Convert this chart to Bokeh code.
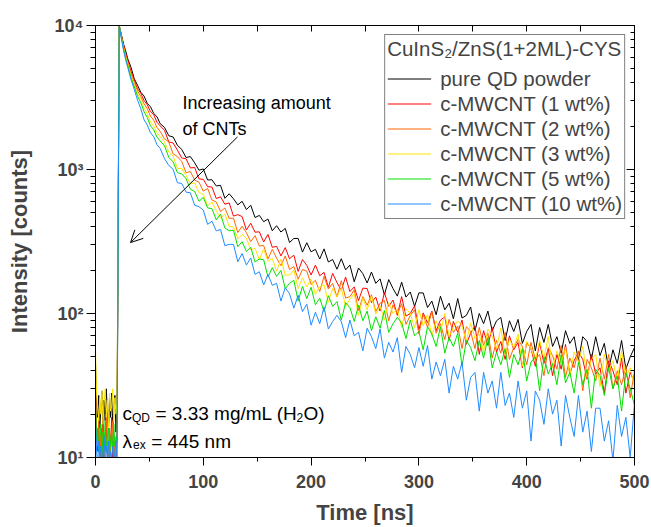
from bokeh.plotting import figure
from bokeh.models import (Range1d, LinearAxis, LogAxis, FixedTicker, CustomJSTickFormatter,
                          Legend, LegendItem, Label, Arrow, OpenHead)
from bokeh.embed import file_html
from bokeh.resources import INLINE

# ---------------- data ----------------
T_BASE = list(range(0, 21))
T_DECAY = [22, 24, 26, 28, 30, 33, 36, 39, 42, 45, 48, 51, 54, 57, 60] + list(range(64, 501, 4))
TIME = T_BASE + T_DECAY

BASE_BLACK = [45, 24, 19, 27, 16, 22, 29, 14, 25, 18, 30, 21, 15, 26, 19, 28, 17, 23, 27, 15, 21]
DECAY_BLACK = [10000, 8650, 7440, 6660, 5850, 5110, 4260, 3850, 3440, 3240, 2880, 2730, 2450, 2330, 2080,
               1962, 1715, 1683, 1471, 1379, 1211, 1230, 1112, 989, 1009,
               846, 849, 769, 775, 631, 678, 626, 568, 601, 527,
               565, 464, 480, 434, 453, 375, 407, 368, 390, 311,
               332, 332, 267, 310, 268, 279, 239, 281, 228, 237,
               203, 240, 201, 217, 166, 207, 189, 163, 194, 162,
               174, 135, 172, 149, 132, 165, 130, 141, 112, 139,
               139, 110, 122, 98, 132, 106, 118, 92, 127, 93,
               97, 111, 76, 100, 85, 104, 76, 89, 94, 65,
               89, 75, 91, 62, 75, 84, 55, 80, 63, 84,
               59, 69, 53, 76, 62, 69, 47, 69, 64, 48,
               69, 51, 62, 41, 56, 45, 65, 41, 50, 58]

BASE_RED = [30, 14, 11, 17, 9, 13, 16, 8, 14, 11, 18, 10, 7, 15, 12, 19, 9, 13, 11, 8, 14]
DECAY_RED = [10000, 8470, 7350, 6380, 5740, 4810, 4190, 3640, 3390, 3010, 2820, 2520, 2400, 2130, 2010,
             1871, 1554, 1527, 1363, 1202, 1187, 1025, 1033, 860, 854,
             760, 756, 629, 646, 574, 586, 475, 486, 471, 381,
             423, 367, 369, 314, 354, 288, 293, 251, 287, 240,
             254, 196, 237, 216, 185, 217, 183, 193, 152, 190,
             164, 145, 179, 142, 153, 123, 150, 149, 119, 130,
             104, 140, 112, 124, 97, 131, 96, 100, 113, 77,
             101, 86, 104, 76, 90, 95, 65, 88, 74, 90,
             61, 73, 82, 52, 76, 60, 80, 54, 64, 48,
             70, 56, 63, 42, 63, 57, 43, 63, 45, 57,
             37, 52, 41, 61, 38, 47, 54, 48, 35, 52,
             38, 42, 28, 47, 40, 32, 49, 28, 39, 33]

BASE_ORANGE = [35, 16, 12, 19, 10, 15, 11, 17, 9, 13, 20, 12, 8, 16, 11, 14, 18, 10, 13, 9, 15]
DECAY_ORANGE = [10000, 8380, 7140, 6200, 5530, 4620, 4010, 3510, 3220, 2870, 2650, 2350, 2200, 1960, 1840,
                1633, 1553, 1285, 1228, 1136, 949, 968, 844, 817, 707,
                739, 614, 595, 511, 540, 458, 459, 365, 404, 364,
                316, 347, 294, 297, 239, 279, 242, 215, 251, 202,
                212, 173, 202, 197, 159, 170, 142, 181, 148, 162,
                130, 169, 128, 131, 146, 105, 131, 114, 135, 103,
                118, 123, 89, 115, 99, 117, 84, 97, 106, 72,
                99, 80, 103, 73, 85, 66, 91, 74, 82, 57,
                81, 75, 57, 80, 60, 73, 49, 65, 53, 74,
                48, 58, 66, 59, 44, 63, 48, 52, 37, 58,
                51, 41, 60, 36, 49, 42, 55, 29, 48, 42,
                34, 49, 35, 52, 30, 40, 32, 43, 26, 40]

BASE_YELLOW = [56, 28, 22, 18, 26, 20, 29, 17, 24, 30, 19, 25, 16, 28, 21, 23, 30, 18, 26, 20, 24]
DECAY_YELLOW = [10000, 8310, 7050, 6060, 5390, 4450, 3860, 3360, 3060, 2670, 2440, 2140, 2010, 1800, 1690,
                1557, 1319, 1239, 1016, 1018, 913, 794, 806, 693, 671,
                560, 595, 518, 458, 491, 403, 400, 330, 354, 333,
                278, 283, 237, 280, 231, 241, 197, 239, 185, 185,
                200, 149, 177, 153, 174, 136, 154, 158, 120, 149,
                130, 150, 112, 126, 137, 97, 128, 106, 132, 99,
                112, 90, 119, 100, 108, 80, 108, 100, 80, 106,
                82, 98, 70, 89, 74, 100, 69, 80, 89, 82,
                64, 86, 67, 72, 54, 78, 69, 57, 79, 51,
                66, 58, 72, 43, 64, 57, 47, 65, 49, 69,
                42, 55, 45, 58, 37, 54, 46, 59, 36, 48,
                52, 31, 52, 40, 47, 34, 55, 36, 42, 31]

BASE_GREEN = [25, 13, 16, 11, 14, 17, 10, 15, 12, 18, 11, 14, 16, 10, 13, 15, 11, 17, 12, 14, 13]
DECAY_GREEN = [10000, 8230, 6890, 5920, 5240, 4330, 3750, 3230, 2910, 2520, 2300, 2010, 1890, 1680, 1580,
               1462, 1214, 1130, 951, 932, 863, 730, 703, 601, 639,
               541, 535, 447, 490, 393, 375, 379, 291, 315, 270,
               288, 228, 239, 236, 179, 208, 181, 199, 149, 162,
               170, 122, 154, 127, 152, 115, 128, 103, 133, 112,
               121, 90, 119, 110, 88, 114, 89, 104, 76, 95,
               79, 105, 74, 85, 94, 86, 67, 90, 70, 75,
               56, 81, 72, 59, 81, 53, 68, 59, 73, 43,
               65, 58, 47, 65, 49, 68, 42, 54, 44, 57,
               36, 52, 44, 57, 34, 46, 50, 29, 50, 38,
               45, 32, 52, 33, 39, 28, 46, 32, 41, 22,
               41, 37, 27, 42, 30, 37, 21, 39, 30, 23]

BASE_BLUE = [18, 11, 9, 13, 10, 12, 8, 11, 14, 9, 12, 10, 13, 8, 11, 10, 12, 9, 11, 13, 10]
DECAY_BLUE = [10000, 8120, 6740, 5770, 5090, 4190, 3590, 3030, 2650, 2220, 2040, 1800, 1690, 1490, 1400,
              1189, 1067, 1004, 809, 800, 696, 689, 564, 552, 522,
              416, 437, 375, 383, 296, 302, 302, 229, 261, 217,
              243, 187, 195, 158, 187, 157, 162, 122, 151, 137,
              109, 134, 103, 116, 83, 102, 85, 111, 78, 88,
              97, 88, 68, 90, 70, 74, 55, 79, 69, 57,
              78, 49, 63, 54, 68, 39, 59, 52, 42, 58,
              43, 60, 35, 46, 37, 48, 28, 43, 35, 46,
              25, 36, 39, 21, 39, 28, 34, 22, 39, 23,
              28, 19, 34, 22, 29, 13, 29, 25, 17, 30,
              20, 25, 12, 27, 19, 14, 27, 15, 21, 11,
              22, 22, 13, 18, 9.5, 23, 14, 19, 10, 24]

SERIES_LABELS = ["pure QD powder", "c-MWCNT (1 wt%)", "c-MWCNT (2 wt%)",
                 "c-MWCNT (3 wt%)", "c-MWCNT (5 wt%)", "c-MWCNT (10 wt%)"]
SERIES_VALUES = [BASE_BLACK + DECAY_BLACK, BASE_RED + DECAY_RED, BASE_ORANGE + DECAY_ORANGE,
                 BASE_YELLOW + DECAY_YELLOW, BASE_GREEN + DECAY_GREEN, BASE_BLUE + DECAY_BLUE]
COLORS = ["#000000", "#FF0000", "#FF6600", "#FFE400", "#00E000", "#1E8CFF"]

LEGEND_TITLE = "CuInS\u2082/ZnS(1+2ML)-CYS"
X_TICKS = [0, 100, 200, 300, 400, 500]
X_MINOR = [50, 150, 250, 350, 450]
X_TOP_TICKS = [0, 50, 100, 150, 200, 250, 300, 350, 400, 450, 500]
Y_TICKS = [10, 100, 1000, 10000]
Y_TICK_LABELS = ["10\u00b9", "10\u00b2", "10\u00b3", "10\u2074"]
Y_MINOR = [m * d for d in (10, 100, 1000) for m in range(2, 10)]

FONT = "Liberation Sans"

# ---------------- figure ----------------
p = figure(width=651, height=527, x_range=Range1d(0, 500), y_range=Range1d(10, 10000),
           y_axis_type="log", output_backend="svg", toolbar_location=None,
           min_border_left=95, min_border_right=17, min_border_top=25, min_border_bottom=68)
p.xgrid.grid_line_color = None
p.ygrid.grid_line_color = None
p.outline_line_color = "black"
p.outline_line_width = 1
p.background_fill_color = "white"
p.border_fill_color = "white"

renderers = []
for vals, col in zip(SERIES_VALUES, COLORS):
    r = p.line(TIME, vals, line_color=col, line_width=1)
    renderers.append(r)

# bottom axis
xa = p.below[0]
xa.ticker = FixedTicker(ticks=X_TICKS, minor_ticks=X_MINOR)
xa.axis_label = "Time [ns]"
xa.axis_label_text_font = FONT
xa.axis_label_text_font_style = "bold"
xa.axis_label_text_font_size = "22px"
xa.axis_label_standoff = 9
xa.major_label_text_font = FONT
xa.major_label_text_font_style = "bold"
xa.major_label_text_font_size = "18px"
xa.major_label_standoff = 9
xa.major_tick_out = 8
xa.major_tick_in = 0
xa.minor_tick_out = 4
xa.minor_tick_in = 0
xa.axis_line_color = "black"
xa.major_tick_line_color = "black"
xa.minor_tick_line_color = "black"

# left axis
ya = p.left[0]
ya.ticker = FixedTicker(ticks=Y_TICKS, minor_ticks=Y_MINOR)
ya.formatter = CustomJSTickFormatter(args=dict(yvals=Y_TICKS, ylabels=Y_TICK_LABELS), code="""
    for (let i = 0; i < yvals.length; i++) {
        if (Math.abs(yvals[i] - tick) < 1e-6 * yvals[i]) { return ylabels[i]; }
    }
    return '';
""")
ya.axis_label = "Intensity [counts]"
ya.axis_label_text_font = FONT
ya.axis_label_text_font_style = "bold"
ya.axis_label_text_font_size = "22px"
ya.axis_label_standoff = 20
ya.major_label_text_font = FONT
ya.major_label_text_font_style = "bold"
ya.major_label_text_font_size = "18px"
ya.major_label_standoff = 3
ya.major_tick_out = 9
ya.major_tick_in = 0
ya.minor_tick_out = 5
ya.minor_tick_in = 0
ya.axis_line_color = "black"
ya.major_tick_line_color = "black"
ya.minor_tick_line_color = "black"

# mirror axes (top, right) with inward ticks, no labels
top = LinearAxis(ticker=FixedTicker(ticks=X_TOP_TICKS), formatter=CustomJSTickFormatter(code="return '';"),
                 major_label_text_font_size="8px",
                 major_label_standoff=0, major_tick_in=6, major_tick_out=0,
                 minor_tick_in=0, minor_tick_out=0, axis_line_color="black")
p.add_layout(top, "above")
right = LogAxis(ticker=FixedTicker(ticks=Y_TICKS, minor_ticks=Y_MINOR),
                formatter=CustomJSTickFormatter(code="return '';"),
                major_label_text_font_size="8px",
                major_label_standoff=0, major_tick_in=8, major_tick_out=0,
                minor_tick_in=4, minor_tick_out=0, axis_line_color="black")
p.add_layout(right, "right")

# legend
legend = Legend(items=[LegendItem(label=lab, renderers=[r]) for lab, r in zip(SERIES_LABELS, renderers)],
                location="top_right", title=LEGEND_TITLE,
                title_text_font=FONT, title_text_font_size="20.5px", title_text_font_style="normal",
                title_standoff=5,
                label_text_font=FONT, label_text_font_size="20.5px",
                glyph_width=44, glyph_height=25, label_height=25, label_standoff=9,
                spacing=0, padding=2, margin=9,
                border_line_color="black", border_line_width=1,
                background_fill_color="white", background_fill_alpha=1.0)
p.add_layout(legend)

# annotations
ARROW_START = (131.7, 1683)
ARROW_END = (32.5, 311)
p.add_layout(Arrow(end=OpenHead(size=12, line_width=1, line_color="black"),
                   x_start=ARROW_START[0], y_start=ARROW_START[1],
                   x_end=ARROW_END[0], y_end=ARROW_END[1],
                   line_color="black", line_width=1))

TXT_X = 80.8
for txt, y in [("Increasing amount", 2891), ("of CNTs", 1911)]:
    p.add_layout(Label(x=TXT_X, y=y, text=txt, text_font=FONT, text_font_size="18px",
                       text_baseline="alphabetic", text_align="left", text_color="black"))

ANN_X = 25.0
ANN_LINES = [
    (20.17, [("c", 0.0, 0, "19px"), ("QD", 9.5, -4, "12px"), ("= 3.33 mg/mL (H", 33.0, 0, "19px"),
             ("2", 174.0, -4, "12px"), ("O)", 181.0, 0, "19px")]),
    (12.92, [("\u03bb", 0.0, 0, "19px"), ("ex", 10.6, -4, "12px"), ("= 445 nm", 28.8, 0, "19px")]),
]
for y, pieces in ANN_LINES:
    for txt, dx, dy, fs in pieces:
        p.add_layout(Label(x=ANN_X, y=y, x_offset=dx, y_offset=dy, text=txt, text_font=FONT,
                           text_font_size=fs, text_baseline="alphabetic", text_align="left",
                           text_color="black"))

open("out.html", "w").write(file_html(p, INLINE))
